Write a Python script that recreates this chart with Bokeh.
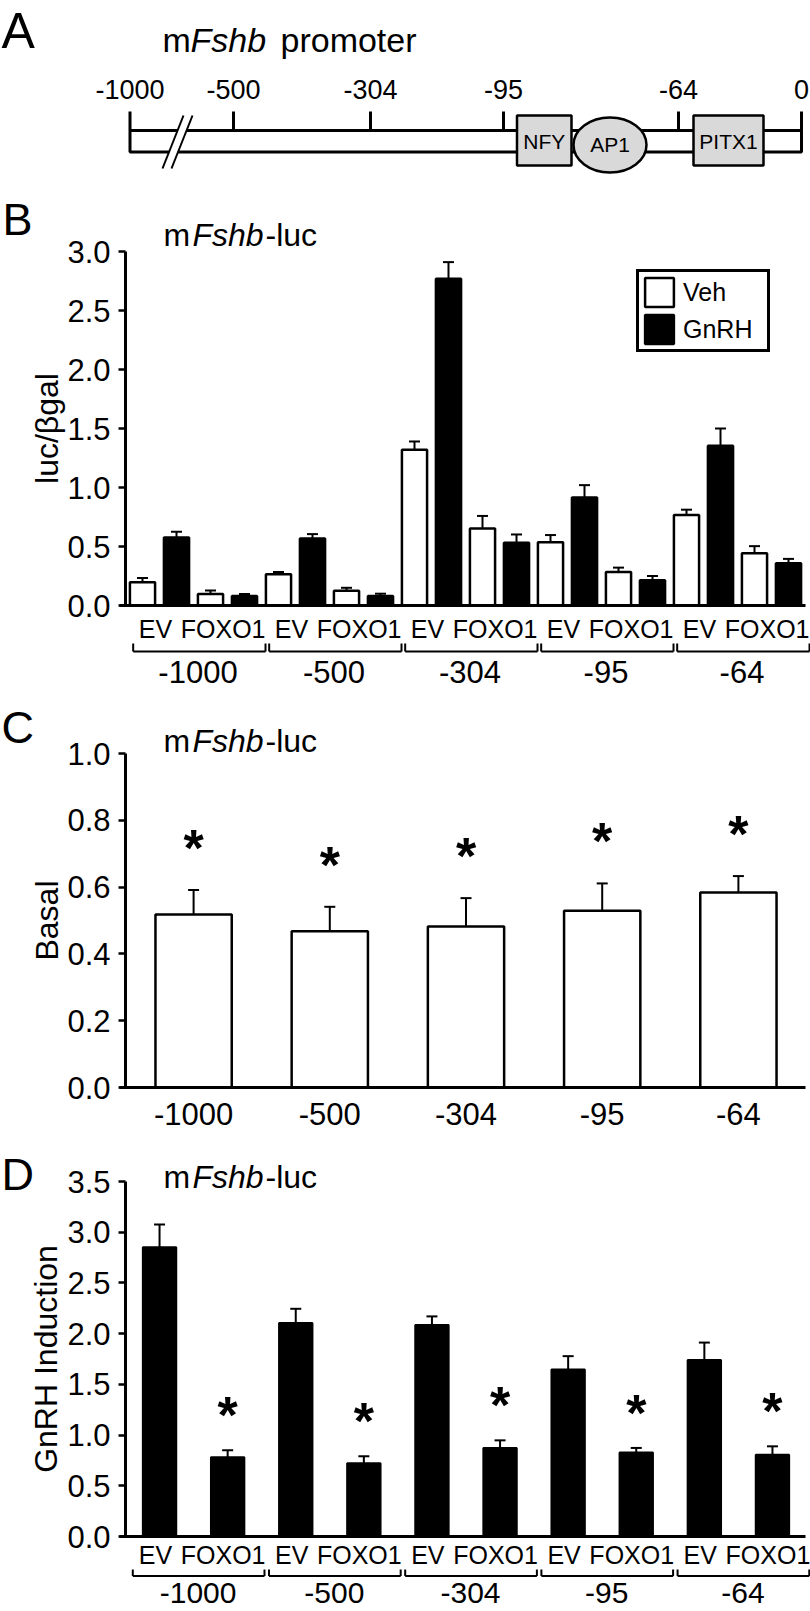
from bokeh.plotting import figure
from bokeh.layouts import column
from bokeh.models import (Range1d, FixedTicker, NumeralTickFormatter, Whisker, TeeHead,
                          ColumnDataSource, Legend, LegendItem)
from bokeh.core.properties import value
from bokeh.embed import file_html
from bokeh.resources import INLINE
import math

# ------------------------------------------------------------------ data
# Panel A: promoter schematic (positions along the drawn promoter line)
site_labels = ["-1000", "-500", "-304", "-95", "-64", "0"]
site_pos = [129.5, 233, 370, 503, 678, 801]
element_names = ["NFY", "AP1", "PITX1"]
element_left = [516.5, 573, 693]
element_right = [571, 646, 763]

# Panel B: luc/bgal, groups of 4 bars (EV-Veh, EV-GnRH, FOXO1-Veh, FOXO1-GnRH)
constructs = ["-1000", "-500", "-304", "-95", "-64"]
veh_ev = [0.196, 0.264, 1.32, 0.537, 0.767]
veh_ev_sem = [0.037, 0.020, 0.07, 0.060, 0.045]
gnrh_ev = [0.577, 0.568, 2.77, 0.915, 1.354]
gnrh_ev_sem = [0.048, 0.037, 0.14, 0.105, 0.146]
veh_fox = [0.097, 0.125, 0.653, 0.284, 0.443]
veh_fox_sem = [0.031, 0.025, 0.106, 0.037, 0.060]
gnrh_fox = [0.080, 0.080, 0.531, 0.213, 0.358]
gnrh_fox_sem = [0.017, 0.020, 0.071, 0.037, 0.037]
b_ticks = [0.0, 0.5, 1.0, 1.5, 2.0, 2.5, 3.0]

# Panel C: basal
basal = [0.518, 0.468, 0.482, 0.529, 0.584]
basal_sem = [0.073, 0.073, 0.085, 0.082, 0.049]
c_ticks = [0.0, 0.2, 0.4, 0.6, 0.8, 1.0]

# Panel D: GnRH induction
ind_ev = [2.852, 2.105, 2.085, 1.647, 1.739]
ind_ev_sem = [0.224, 0.140, 0.085, 0.131, 0.173]
ind_fox = [0.781, 0.722, 0.873, 0.827, 0.807]
ind_fox_sem = [0.069, 0.069, 0.075, 0.046, 0.082]
d_ticks = [0.0, 0.5, 1.0, 1.5, 2.0, 2.5, 3.0, 3.5]

# ------------------------------------------------------------------ style
FONT = "Liberation Sans"
W = 810
AXIS_X = 125          # page x of the y axis
TICK_FS = "31px"
GRAY = "#d9d9d9"
STAR_FS = 52
CAP = 0.358           # cap-centre above baseline, in em


def mid(baseline_px, font_px):
    """page y of the visual centre of capitals that sit on baseline_px"""
    return baseline_px - CAP * font_px


def chart(fig_top, fig_h, zero_py, top_py, top_val, slot):
    ppu = (zero_py - top_py) / top_val

    def px2x(px):
        return -0.5 + (px - AXIS_X) / slot

    def py2y(py):
        return (zero_py - py) / ppu

    p = figure(width=W, height=fig_h,
               x_range=Range1d(px2x(0), px2x(W)),
               y_range=Range1d(py2y(fig_top + fig_h), py2y(fig_top)),
               toolbar_location=None, output_backend="svg", min_border=0)
    p.xgrid.visible = False
    p.ygrid.visible = False
    p.outline_line_color = None
    p.background_fill_color = "white"
    p.border_fill_color = "white"
    return p, px2x, py2y, ppu


def style_axes(p, ticks, px2x):
    ya = p.yaxis[0]
    ya.fixed_location = -0.5
    ya.bounds = (0, ticks[-1])
    ya.ticker = FixedTicker(ticks=ticks)
    ya.formatter = NumeralTickFormatter(format="0.0")
    ya.major_label_text_font = FONT
    ya.major_label_text_font_size = TICK_FS
    ya.major_label_text_color = "black"
    ya.major_label_standoff = 8
    ya.major_tick_out = 7
    ya.major_tick_in = 0
    ya.minor_tick_out = 0
    ya.minor_tick_in = 0
    ya.axis_line_width = 3
    ya.major_tick_line_width = 2.5
    ya.axis_line_color = "black"
    ya.major_tick_line_color = "black"
    xa = p.xaxis[0]
    xa.fixed_location = 0
    xa.bounds = (px2x(AXIS_X - 6), px2x(805))
    xa.ticker = FixedTicker(ticks=[])
    xa.axis_line_width = 3
    xa.axis_line_color = "black"
    xa.major_tick_out = 0
    xa.major_tick_in = 0
    xa.minor_tick_out = 0
    xa.minor_tick_in = 0
    xa.major_label_text_font_size = "0px"


def add_texts(p, xs, y, texts, size_px, align, style="normal", angle=0.0, y_offset=0.0):
    p.text(x=xs, y=[y] * len(xs), text=texts, angle=angle, text_font=value(FONT),
           text_font_size=f"{size_px}px", text_font_style=style, text_align=align,
           text_baseline="middle", text_color="black", y_offset=y_offset)


def add_title(p, letter, tx, ty, lx, ly):
    add_texts(p, [lx], ly, [letter], 45, "left")
    p.text(x=tx, y=[ty] * 3, text=["m", "Fshb", "-luc"],
           text_font_style=["normal", "italic", "normal"], text_font=value(FONT),
           text_font_size="32px", text_baseline="middle", text_align="left",
           text_color="black")


def add_whiskers(p, xs, means, sems):
    src = ColumnDataSource(dict(x=xs, lower=means, upper=[m + s for m, s in zip(means, sems)]))
    p.add_layout(Whisker(source=src, base="x", lower="lower", upper="upper",
                         dimension="height", line_width=2, line_color="black",
                         lower_head=None,
                         upper_head=TeeHead(size=11, line_width=2, line_color="black")))


def add_brackets(p, x0s, x1s, y_line, y_tick):
    xs0, ys0, xs1, ys1 = [], [], [], []
    for a, b in zip(x0s, x1s):
        xs0 += [a, a, b]
        ys0 += [y_line, y_line, y_line]
        xs1 += [b, a, b]
        ys1 += [y_line, y_tick, y_tick]
    p.segment(x0=xs0, y0=ys0, x1=xs1, y1=ys1, line_color="black", line_width=2)


def add_stars(p, xs, tops, lift):
    # the asterisk glyph sits ~0.226 em above the middle of the text box
    p.text(x=xs, y=[t + lift for t in tops], text=["*"] * len(xs),
           text_font=value(FONT), text_font_size=f"{STAR_FS}px", text_font_style="bold",
           text_align="center", text_baseline="middle", y_offset=0.226 * STAR_FS,
           text_color="black")


# ------------------------------------------------------------------ Panel A
pA = figure(width=W, height=185, x_range=Range1d(0, W), y_range=Range1d(185, 0),
            toolbar_location=None, output_backend="svg", min_border=0,
            x_axis_location=None, y_axis_location=None)
pA.grid.visible = False
pA.outline_line_color = None
add_texts(pA, [1], mid(48, 50), ["A"], 50, "left")
pA.text(x=[162, 190, 280], y=[mid(51.5, 34)] * 3, text=["m", "Fshb", "promoter"],
        text_font_style=["normal", "italic", "normal"], text_font=value(FONT),
        text_font_size="34px", text_baseline="middle", text_align="left",
        text_color="black")
pA.quad(left=[site_pos[0]], right=[site_pos[-1]], top=[130], bottom=[151.5],
        fill_color="white", line_color="black", line_width=3)
pA.segment(x0=site_pos, y0=[111] * len(site_pos), x1=site_pos, y1=[130] * len(site_pos),
           line_color="black", line_width=3)
# axis break
pA.patch(x=[183, 192, 171, 162], y=[115, 115, 168, 168], fill_color="white", line_color=None)
pA.segment(x0=[183, 192], y0=[115, 115], x1=[162, 171], y1=[168, 168],
           line_color="black", line_width=2)
# binding elements
pA.quad(left=[element_left[0], element_left[2]], right=[element_right[0], element_right[2]],
        top=[115, 115], bottom=[165, 165], fill_color=GRAY, line_color="black", line_width=2.5)
pA.ellipse(x=[(element_left[1] + element_right[1]) / 2], y=[144.5],
           width=[element_right[1] - element_left[1]], height=[55],
           fill_color=GRAY, line_color="black", line_width=2.5)
pA.text(x=[(l + r) / 2 for l, r in zip(element_left, element_right)], y=[141, 144, 141],
        text=element_names, text_font=value(FONT), text_font_size="21px",
        text_baseline="middle", text_align="center", text_color="black")
add_texts(pA, site_pos, mid(99, 27), site_labels, 27, "center")

# ------------------------------------------------------------------ Panel B
ng = len(constructs)
pB, bx, by, ppuB = chart(185, 515, 605, 251, 3.0, 34.0)
style_axes(pB, b_ticks, bx)
veh_x = [g * 4 for g in range(ng)] + [g * 4 + 2 for g in range(ng)]
gnrh_x = [g * 4 + 1 for g in range(ng)] + [g * 4 + 3 for g in range(ng)]
r_veh = pB.vbar(x=veh_x, top=veh_ev + veh_fox, width=0.74, bottom=0,
                fill_color="white", line_color="black", line_width=2.5)
r_gnrh = pB.vbar(x=gnrh_x, top=gnrh_ev + gnrh_fox, width=0.74, bottom=0,
                 fill_color="black", line_color="black", line_width=2.5)
add_whiskers(pB, veh_x + gnrh_x, veh_ev + veh_fox + gnrh_ev + gnrh_fox,
             veh_ev_sem + veh_fox_sem + gnrh_ev_sem + gnrh_fox_sem)
legB = Legend(items=[LegendItem(label="Veh", renderers=[r_veh]),
                     LegendItem(label="GnRH", renderers=[r_gnrh])],
              location=(636, 700 - 352), orientation="vertical",
              border_line_color="black", border_line_width=3, border_line_alpha=1.0,
              padding=2, spacing=1,
              glyph_width=36, glyph_height=36, label_standoff=6, label_width=82,
              label_text_font=FONT, label_text_font_size="25px", label_text_color="black",
              margin=0, background_fill_color="white", background_fill_alpha=1.0)
pB.add_layout(legB)
g4 = [g * 4 for g in range(ng)]
add_texts(pB, [g - 0.109 for g in g4], by(mid(637, 25)), ["EV"] * ng, 25, "left")
add_texts(pB, [g + 3.618 for g in g4], by(mid(637, 25)), ["FOXO1"] * ng, 25, "right")
add_brackets(pB, [g - 0.274 for g in g4], [g + 3.618 for g in g4], by(651), by(643))
add_texts(pB, [g + 1.632 for g in g4], by(mid(683, 31)), constructs, 31, "center")
add_texts(pB, [bx(46)], 1.5, ["luc/βgal"], 32, "center", angle=math.pi / 2)
add_title(pB, "B", [bx(163), bx(192), bx(265)], by(mid(246, 32)), bx(2), by(mid(235, 45)))

# ------------------------------------------------------------------ Panel C
pC, cx, cy, ppuC = chart(700, 440, 1087, 753, 1.0, 136.2)
style_axes(pC, c_ticks, cx)
xc = list(range(len(constructs)))
pC.vbar(x=xc, top=basal, width=0.56, bottom=0, fill_color="white",
        line_color="black", line_width=2.5)
add_whiskers(pC, xc, basal, basal_sem)
add_stars(pC, xc, [m + s for m, s in zip(basal, basal_sem)], 54 / ppuC)
add_texts(pC, xc, cy(mid(1125, 31)), constructs, 31, "center")
add_texts(pC, [cx(46)], 0.5, ["Basal"], 32, "center", angle=math.pi / 2)
add_title(pC, "C", [cx(163), cx(192), cx(265)], cy(mid(752, 32)), cx(1), cy(mid(743, 45)))

# ------------------------------------------------------------------ Panel D
pD, dx, dy, ppuD = chart(1140, 471, 1536, 1181, 3.5, 68.1)
style_axes(pD, d_ticks, dx)
ev_x = [2 * g for g in range(ng)]
fox_x = [2 * g + 1 for g in range(ng)]
pD.vbar(x=ev_x + fox_x, top=ind_ev + ind_fox, width=0.49, bottom=0,
        fill_color="black", line_color="black", line_width=2)
add_whiskers(pD, ev_x + fox_x, ind_ev + ind_fox, ind_ev_sem + ind_fox_sem)
add_stars(pD, fox_x, [m + s for m, s in zip(ind_fox, ind_fox_sem)], 47 / ppuD)
add_texts(pD, [g - 0.305 for g in ev_x], dy(mid(1563, 25)), ["EV"] * ng, 25, "left")
add_texts(pD, [g + 1.556 for g in ev_x], dy(mid(1563, 25)), ["FOXO1"] * ng, 25, "right")
add_brackets(pD, [g - 0.393 for g in ev_x], [g + 1.541 for g in ev_x], dy(1575.5), dy(1569))
add_texts(pD, [g + 0.566 for g in ev_x], dy(1592), constructs, 30, "center")
add_texts(pD, [dx(45)], 1.75, ["GnRH Induction"], 32, "center", angle=math.pi / 2)
add_title(pD, "D", [dx(163), dx(192), dx(265)], dy(mid(1188, 32)), dx(1), dy(mid(1190, 45)))

layout = column(pA, pB, pC, pD, spacing=0)
open("out.html", "w").write(file_html(layout, INLINE))
